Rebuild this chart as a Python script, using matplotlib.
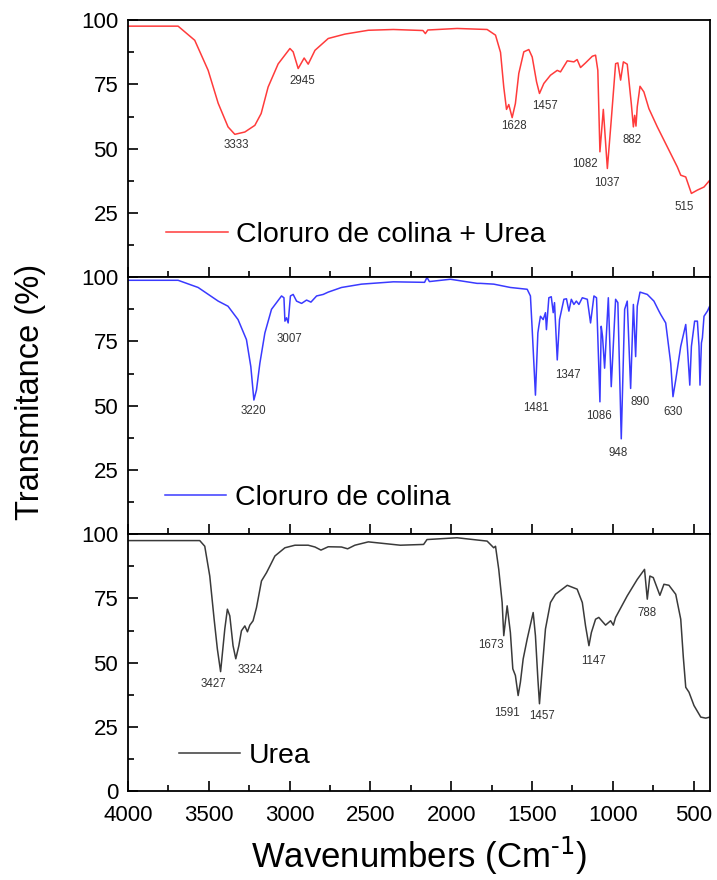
import matplotlib as mpl
import matplotlib.pyplot as plt
from matplotlib.ticker import MultipleLocator

mpl.rcParams['font.family'] = ['Liberation Sans', 'DejaVu Sans']
mpl.rcParams['mathtext.default'] = 'regular'

# ----- Data -----
# Cloruro de colina + Urea
ccu_wn = [4000, 3690, 3587, 3504, 3442, 3381, 3339, 3277, 3215, 3176, 3133, 3071,
          2998, 2978, 2947, 2910, 2885, 2843, 2761, 2658, 2513, 2358, 2175, 2160,
          2145, 1964, 1778, 1726, 1695, 1675, 1658, 1644, 1623, 1603, 1582, 1551,
          1520, 1499, 1472, 1454, 1427, 1386, 1344, 1324, 1282, 1241, 1221, 1200,
          1169, 1127, 1107, 1093, 1080, 1059, 1034, 1010, 983, 969, 952, 935, 911,
          886, 873, 865, 857, 849, 832, 808, 777, 725, 663, 601, 580, 549, 514,
          477, 436, 401, 400]
ccu_t = [97.7, 97.7, 92.2, 80.5, 67.7, 58.5, 55.6, 56.5, 59.1, 63.7, 74.0, 83.0,
         89.0, 87.7, 81.2, 85.3, 82.9, 88.3, 92.9, 94.6, 96.1, 96.4, 96.0, 94.8,
         96.2, 96.8, 96.4, 94.2, 87.5, 74.0, 65.3, 67.2, 62.1, 67.6, 79.3, 87.7,
         88.6, 85.7, 76.0, 71.5, 75.4, 78.6, 80.5, 79.9, 84.2, 83.8, 84.7, 81.6,
         83.4, 86.0, 86.4, 80.5, 48.8, 65.3, 42.3, 61.1, 83.1, 83.4, 76.7, 83.8, 82.9,
         67.6, 58.5, 63.0, 58.8, 66.3, 74.3, 72.1, 65.6, 58.5, 50.7, 42.9, 39.7, 39.0, 32.6,
         33.9, 35.1, 37.7, 0.0]

# Cloruro de colina
cc_wn = [4000, 3690, 3566, 3442, 3381, 3319, 3267, 3240, 3221, 3205, 3184, 3153,
         3112, 3050, 3035, 3029, 3019, 3009, 2995, 2978, 2957, 2926, 2895, 2868,
         2833, 2792, 2761, 2679, 2555, 2358, 2165, 2150, 2135, 2005, 1840, 1819,
         1737, 1634, 1530, 1510, 1499, 1479, 1464, 1458, 1448, 1431, 1417, 1411,
         1396, 1381, 1369, 1361, 1344, 1330, 1303, 1287, 1272, 1257, 1241, 1226,
         1210, 1189, 1158, 1138, 1117, 1101, 1080, 1072, 1064, 1051, 1028, 1010,
         983, 969, 948, 927, 911, 890, 873, 859, 849, 832, 787, 746, 715, 704,
         673, 642, 628, 611, 580, 549, 539, 524, 514, 494, 477, 467, 461, 452,
         446, 436, 415, 401, 400]
cc_t = [98.8, 98.8, 96.0, 90.7, 88.7, 83.5, 75.7, 65.2, 52.2, 56.1, 66.5, 78.3,
        87.5, 92.7, 92.0, 82.9, 84.2, 82.2, 92.7, 93.3, 90.7, 89.8, 91.1, 90.3,
        92.7, 93.3, 94.2, 96.0, 97.3, 98.2, 98.0, 99.9, 98.3, 99.2, 97.6, 97.6,
        97.3, 96.0, 95.3, 92.7, 79.6, 54.1, 78.3, 80.9, 84.8, 83.5, 86.2, 79.6,
        92.0, 92.4, 86.2, 90.1, 67.8, 83.5, 91.4, 91.6, 86.8, 91.4, 89.4, 90.7,
        89.4, 92.0, 91.4, 82.2, 92.7, 92.0, 51.5, 80.9, 77.0, 64.6, 92.0, 57.4,
        91.4, 90.1, 37.1, 87.5, 90.7, 56.7, 89.4, 69.1, 88.7, 94.2, 93.3, 90.7, 86.8, 85.5,
        82.2, 66.5, 53.5, 60.0, 73.1, 81.6, 73.1, 58.0, 73.1, 82.9, 82.9, 73.1, 58.0, 74.4,
        76.4, 84.8, 86.8, 88.7, 0.0]

# Urea
u_wn = [4000, 3556, 3525, 3494, 3467, 3447, 3427, 3401, 3385, 3370, 3350, 3333,
        3314, 3298, 3277, 3261, 3246, 3226, 3205, 3174, 3143, 3122, 3091, 3029,
        2967, 2885, 2843, 2806, 2761, 2679, 2641, 2596, 2513, 2315, 2171, 2150,
        1964, 1778, 1737, 1726, 1706, 1685, 1675, 1654, 1634, 1619, 1603, 1586,
        1572, 1555, 1530, 1493, 1479, 1464, 1454, 1437, 1417, 1386, 1355, 1282,
        1221, 1189, 1169, 1148, 1133, 1107, 1087, 1045, 1014, 997, 983, 911, 849,
        804, 787, 771, 750, 709, 684, 653, 611, 580, 564, 549, 529, 498, 456,
        425, 400]
u_t = [97.5, 97.5, 95.3, 83.7, 66.9, 55.3, 46.5, 63.1, 70.8, 68.2, 56.6, 51.5,
       56.6, 62.4, 64.3, 62.0, 64.6, 66.3, 71.4, 81.8, 85.0, 87.6, 91.5, 94.7,
       95.7, 95.7, 95.0, 93.8, 95.1, 95.0, 94.3, 95.7, 97.0, 95.7, 96.0, 97.9,
       98.6, 97.3, 94.7, 95.3, 86.3, 73.4, 60.5, 72.1, 61.7, 47.6, 45.0, 37.2,
       42.4, 51.4, 59.2, 69.5, 60.5, 43.7, 34.0, 47.6, 63.1, 73.4, 76.6, 80.1,
       78.6, 73.4, 64.3, 56.6, 61.7, 66.9, 67.6, 64.6, 66.3, 64.6, 67.6, 76.0, 82.4,
       86.3, 74.7, 83.7, 83.1, 76.2, 80.5, 80.1, 76.6, 66.9, 52.1, 40.4, 38.5, 33.3, 28.8,
       28.4, 28.8]

# peak labels: text, wavenumber, transmittance
ccu_peaks = [("3333", 3327, 51.4), ("2945", 2924, 76.3), ("1628", 1609, 58.8),
             ("1457", 1417, 66.5), ("1082", 1173, 44.2), ("1037", 1039, 36.5),
             ("882", 884, 53.3), ("515", 556, 27.4)]
cc_peaks = [("3220", 3224, 48.0), ("3007", 3001, 76.0), ("1481", 1474, 49.1),
            ("1347", 1279, 62.0), ("1086", 1087, 46.0), ("948", 967, 31.5),
            ("890", 832, 51.3), ("630", 626, 47.6)]
u_peaks = [("3427", 3471, 41.5), ("3324", 3240, 47.3), ("1673", 1757, 57.0),
           ("1591", 1654, 30.3), ("1457", 1441, 29.2), ("1147", 1117, 50.5),
           ("788", 791, 69.5)]

series = [
    (ccu_wn, ccu_t, ccu_peaks, "Cloruro de colina + Urea", "#ff3b3b", (0.066, 0.112)),
    (cc_wn, cc_t, cc_peaks, "Cloruro de colina", "#3a3aff", (0.064, 0.092)),
    (u_wn, u_t, u_peaks, "Urea", "#3a3a3a", (0.088, 0.087)),
]

# ----- Plot -----
fig, axs = plt.subplots(3, 1, sharex=True, figsize=(7.17, 8.8), dpi=100)
fig.subplots_adjust(left=0.1785, right=0.990, top=0.977, bottom=0.101, hspace=0)

for i, (wn, t, peaks, name, color, legpos) in enumerate(series):
    ax = axs[i]
    ax.plot(wn, t, color=color, lw=1.1, label=name)
    for txt, x, y in peaks:
        ax.text(x, y, txt, fontsize=8.3, color="#333333", ha="center", va="center")
    ax.set_ylim(0, 100)
    ax.set_xlim(4000, 400)
    if i < 2:
        ax.set_yticks([25, 50, 75, 100])
    else:
        ax.set_yticks([0, 25, 50, 75, 100])
    ax.yaxis.set_minor_locator(MultipleLocator(12.5))
    ax.xaxis.set_major_locator(MultipleLocator(500))
    ax.xaxis.set_minor_locator(MultipleLocator(250))
    ax.tick_params(which="both", direction="in", top=False, right=False, width=1.2)
    ax.tick_params(which="major", length=7.5, labelsize=16)
    ax.tick_params(axis="y", which="major", pad=7)
    ax.tick_params(axis="x", which="major", pad=10)
    ax.tick_params(which="minor", length=4)
    for sp in ax.spines.values():
        sp.set_linewidth(1.3)
    ax.legend(loc="lower left", bbox_to_anchor=legpos, frameon=False, fontsize=20.5,
              handlelength=2.15, handletextpad=0.3, borderpad=0, borderaxespad=0)

axs[2].set_xticks([4000, 3500, 3000, 2500, 2000, 1500, 1000, 500])
axs[2].set_xlabel(r"Wavenumbers (Cm$^{\text{-1}}$)", fontsize=25, labelpad=6)
fig.text(0.042, 0.555, "Transmitance (%)", rotation=90, fontsize=23.5,
         ha="center", va="center")

plt.savefig("out.png")
